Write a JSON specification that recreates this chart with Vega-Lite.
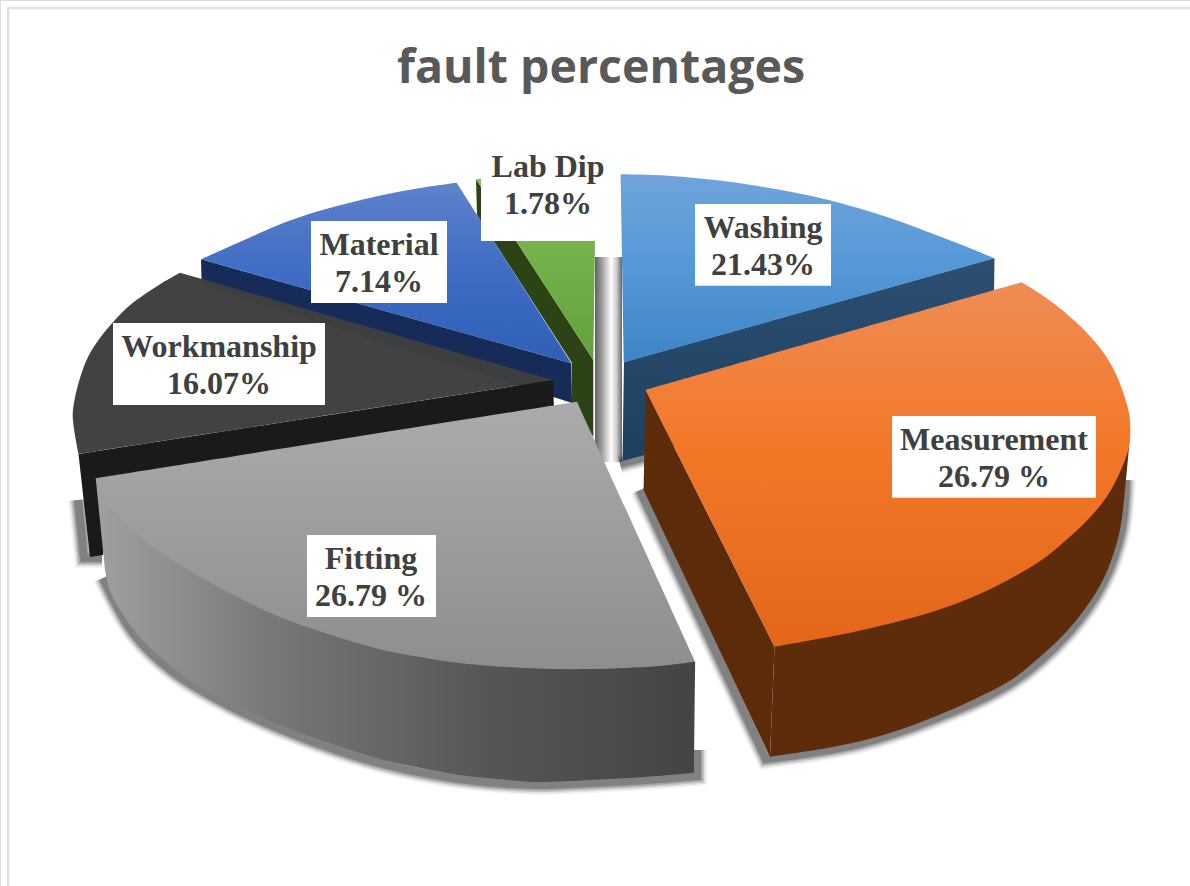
{
"$schema":"https://vega.github.io/schema/vega-lite/v6.json",
"width":1190,"height":886,"padding":0,"autosize":{"type":"none"},"background":"white",
"title":{"text":"fault percentages","font":"Open Sans","fontSize":46.5,"fontWeight":"bold","color":"#595959","anchor":"middle","orient":"top","offset":-129,"dx":6,"baseline":"alphabetic"},
"data":{"values":[
{"part":"borderv","x0":8,"y0":8,"y1":886},
{"part":"borderh","x0":7,"x1":1190,"y0":8},
{"part":"gap","x0":595,"x1":622,"y0":257,"y1":462},
{"part":"shadow_orange","seq":1,"x":640,"y":490},{"part":"shadow_orange","seq":2,"x":640,"y":490},{"part":"shadow_orange","seq":3,"x":766,"y":759},{"part":"shadow_orange","seq":4,"x":766,"y":759},{"part":"shadow_orange","seq":5,"x":858,"y":744},{"part":"shadow_orange","seq":6,"x":934,"y":719},{"part":"shadow_orange","seq":7,"x":1011,"y":683},{"part":"shadow_orange","seq":8,"x":1068,"y":633},{"part":"shadow_orange","seq":9,"x":1103,"y":583},{"part":"shadow_orange","seq":10,"x":1121,"y":532},{"part":"shadow_orange","seq":11,"x":1126,"y":480},
{"part":"shadow_fit","seq":1,"x":103,"y":578},{"part":"shadow_fit","seq":2,"x":134,"y":634},{"part":"shadow_fit","seq":3,"x":172,"y":671},{"part":"shadow_fit","seq":4,"x":230,"y":706},{"part":"shadow_fit","seq":5,"x":306,"y":739},{"part":"shadow_fit","seq":6,"x":383,"y":764},{"part":"shadow_fit","seq":7,"x":459,"y":779},{"part":"shadow_fit","seq":8,"x":536,"y":785},{"part":"shadow_fit","seq":9,"x":590,"y":783},{"part":"shadow_fit","seq":10,"x":647,"y":780},{"part":"shadow_fit","seq":11,"x":697,"y":776},{"part":"shadow_fit","seq":12,"x":697,"y":776},{"part":"shadow_fit","seq":13,"x":697,"y":750},{"part":"shadow_fit","seq":14,"x":697,"y":750},
{"part":"shadow_stub","seq":1,"x":78,"y":500},{"part":"shadow_stub","seq":2,"x":78,"y":500},{"part":"shadow_stub","seq":3,"x":84,"y":558},{"part":"shadow_stub","seq":4,"x":84,"y":558},{"part":"shadow_stub","seq":5,"x":102,"y":558},{"part":"shadow_stub","seq":6,"x":102,"y":558},
{"part":"shadow_wash","seq":1,"x":620,"y":464},{"part":"shadow_wash","seq":2,"x":620,"y":464},{"part":"shadow_wash","seq":3,"x":650,"y":456},{"part":"shadow_wash","seq":4,"x":650,"y":456},
{"part":"wash_side","seq":1,"x":624,"y":362},{"part":"wash_side","seq":2,"x":994.5,"y":258},{"part":"wash_side","seq":3,"x":993,"y":360},{"part":"wash_side","seq":4,"x":622.5,"y":461},
{"part":"wash_top","seq":1,"x":620.6,"y":174.3},{"part":"wash_top","seq":2,"x":620.6,"y":174.3},{"part":"wash_top","seq":3,"x":665,"y":175.5},{"part":"wash_top","seq":4,"x":705,"y":179},{"part":"wash_top","seq":5,"x":745,"y":184},{"part":"wash_top","seq":6,"x":781,"y":190},{"part":"wash_top","seq":7,"x":820,"y":198},{"part":"wash_top","seq":8,"x":858,"y":208},{"part":"wash_top","seq":9,"x":890,"y":218},{"part":"wash_top","seq":10,"x":915,"y":227},{"part":"wash_top","seq":11,"x":957,"y":243},{"part":"wash_top","seq":12,"x":994.5,"y":258.3},{"part":"wash_top","seq":13,"x":994.5,"y":258.3},{"part":"wash_top","seq":14,"x":623.7,"y":362.3},{"part":"wash_top","seq":15,"x":623.7,"y":362.3},
{"part":"lab_side","seq":1,"x":476,"y":179.3},{"part":"lab_side","seq":2,"x":593.3,"y":360},{"part":"lab_side","seq":3,"x":593.3,"y":437},{"part":"lab_side","seq":4,"x":572,"y":403},{"part":"lab_side","seq":5,"x":572,"y":363},{"part":"lab_side","seq":6,"x":477,"y":215},
{"part":"lab_top","seq":1,"x":476,"y":179.3},{"part":"lab_top","seq":2,"x":595,"y":172},{"part":"lab_top","seq":3,"x":595,"y":240},{"part":"lab_top","seq":4,"x":593.3,"y":360},
{"part":"mat_side","seq":1,"x":201,"y":259.3},{"part":"mat_side","seq":2,"x":571.4,"y":363.3},{"part":"mat_side","seq":3,"x":572,"y":403},{"part":"mat_side","seq":4,"x":201.7,"y":285},
{"part":"mat_top","seq":1,"x":456.6,"y":182.7},{"part":"mat_top","seq":2,"x":456.6,"y":182.7},{"part":"mat_top","seq":3,"x":420,"y":188},{"part":"mat_top","seq":4,"x":382.7,"y":195},{"part":"mat_top","seq":5,"x":345,"y":204},{"part":"mat_top","seq":6,"x":306,"y":215},{"part":"mat_top","seq":7,"x":276,"y":226},{"part":"mat_top","seq":8,"x":248.8,"y":238},{"part":"mat_top","seq":9,"x":201,"y":259.3},{"part":"mat_top","seq":10,"x":201,"y":259.3},{"part":"mat_top","seq":11,"x":571.4,"y":363.3},{"part":"mat_top","seq":12,"x":571.4,"y":363.3},
{"part":"work_side","seq":1,"x":78.5,"y":454},{"part":"work_side","seq":2,"x":553,"y":380},{"part":"work_side","seq":3,"x":554,"y":410},{"part":"work_side","seq":4,"x":110,"y":500},{"part":"work_side","seq":5,"x":103,"y":555},{"part":"work_side","seq":6,"x":90,"y":557},
{"part":"work_top","seq":1,"x":180,"y":272.7},{"part":"work_top","seq":2,"x":180,"y":272.7},{"part":"work_top","seq":3,"x":162,"y":283},{"part":"work_top","seq":4,"x":145,"y":294},{"part":"work_top","seq":5,"x":129,"y":306},{"part":"work_top","seq":6,"x":115,"y":320},{"part":"work_top","seq":7,"x":100,"y":338},{"part":"work_top","seq":8,"x":88,"y":357},{"part":"work_top","seq":9,"x":80,"y":378},{"part":"work_top","seq":10,"x":74.5,"y":400},{"part":"work_top","seq":11,"x":72.7,"y":415},{"part":"work_top","seq":12,"x":74.6,"y":433},{"part":"work_top","seq":13,"x":78.5,"y":454},{"part":"work_top","seq":14,"x":78.5,"y":454},{"part":"work_top","seq":15,"x":553,"y":380},{"part":"work_top","seq":16,"x":553,"y":380},
{"part":"fit_side","seq":1,"x":95.7,"y":478.3},{"part":"fit_side","seq":2,"x":95.7,"y":478.3},{"part":"fit_side","seq":3,"x":555,"y":600},{"part":"fit_side","seq":4,"x":555,"y":600},{"part":"fit_side","seq":5,"x":695.2,"y":661.7},{"part":"fit_side","seq":6,"x":695.2,"y":661.7},{"part":"fit_side","seq":7,"x":694,"y":772.7},{"part":"fit_side","seq":8,"x":694,"y":772.7},{"part":"fit_side","seq":9,"x":647,"y":776.7},{"part":"fit_side","seq":10,"x":590,"y":780},{"part":"fit_side","seq":11,"x":536,"y":782},{"part":"fit_side","seq":12,"x":497,"y":779},{"part":"fit_side","seq":13,"x":459,"y":775},{"part":"fit_side","seq":14,"x":421,"y":768},{"part":"fit_side","seq":15,"x":383,"y":760},{"part":"fit_side","seq":16,"x":344,"y":748},{"part":"fit_side","seq":17,"x":306,"y":735},{"part":"fit_side","seq":18,"x":268,"y":720},{"part":"fit_side","seq":19,"x":230,"y":702},{"part":"fit_side","seq":20,"x":199,"y":687},{"part":"fit_side","seq":21,"x":172,"y":667},{"part":"fit_side","seq":22,"x":153,"y":650},{"part":"fit_side","seq":23,"x":134,"y":630},{"part":"fit_side","seq":24,"x":111,"y":593},{"part":"fit_side","seq":25,"x":105,"y":570},{"part":"fit_side","seq":26,"x":105,"y":570},
{"part":"fit_top","seq":1,"x":95.7,"y":478.3},{"part":"fit_top","seq":2,"x":95.7,"y":478.3},{"part":"fit_top","seq":3,"x":577,"y":401.7},{"part":"fit_top","seq":4,"x":577,"y":401.7},{"part":"fit_top","seq":5,"x":695.2,"y":661.7},{"part":"fit_top","seq":6,"x":695.2,"y":661.7},{"part":"fit_top","seq":7,"x":659,"y":666},{"part":"fit_top","seq":8,"x":625,"y":668},{"part":"fit_top","seq":9,"x":590,"y":669},{"part":"fit_top","seq":10,"x":555,"y":669},{"part":"fit_top","seq":11,"x":507,"y":667},{"part":"fit_top","seq":12,"x":459,"y":663},{"part":"fit_top","seq":13,"x":420,"y":657},{"part":"fit_top","seq":14,"x":382.7,"y":650},{"part":"fit_top","seq":15,"x":344,"y":639},{"part":"fit_top","seq":16,"x":306,"y":626.7},{"part":"fit_top","seq":17,"x":268,"y":612},{"part":"fit_top","seq":18,"x":229.6,"y":593},{"part":"fit_top","seq":19,"x":191,"y":571.7},{"part":"fit_top","seq":20,"x":153,"y":546.7},{"part":"fit_top","seq":21,"x":132,"y":530},{"part":"fit_top","seq":22,"x":114.8,"y":513},{"part":"fit_top","seq":23,"x":103,"y":497},
{"part":"or_cut","seq":1,"x":645.5,"y":390},{"part":"or_cut","seq":2,"x":774.5,"y":646.7},{"part":"or_cut","seq":3,"x":770,"y":756.7},{"part":"or_cut","seq":4,"x":643.6,"y":490},
{"part":"or_side","seq":1,"x":774.5,"y":646.7},{"part":"or_side","seq":2,"x":774.5,"y":646.7},{"part":"or_side","seq":3,"x":1129,"y":447},{"part":"or_side","seq":4,"x":1129,"y":447},{"part":"or_side","seq":5,"x":1125,"y":490},{"part":"or_side","seq":6,"x":1120,"y":530},{"part":"or_side","seq":7,"x":1113,"y":555},{"part":"or_side","seq":8,"x":1103,"y":580},{"part":"or_side","seq":9,"x":1087,"y":606},{"part":"or_side","seq":10,"x":1068,"y":630},{"part":"or_side","seq":11,"x":1041,"y":656},{"part":"or_side","seq":12,"x":1011,"y":680},{"part":"or_side","seq":13,"x":972.7,"y":700},{"part":"or_side","seq":14,"x":934.4,"y":716.7},{"part":"or_side","seq":15,"x":896,"y":731},{"part":"or_side","seq":16,"x":858,"y":741.7},{"part":"or_side","seq":17,"x":815,"y":750},{"part":"or_side","seq":18,"x":770,"y":756.7},{"part":"or_side","seq":19,"x":770,"y":756.7},
{"part":"or_top","seq":1,"x":645.5,"y":390},{"part":"or_top","seq":2,"x":645.5,"y":390},{"part":"or_top","seq":3,"x":1021.7,"y":282.3},{"part":"or_top","seq":4,"x":1021.7,"y":282.3},{"part":"or_top","seq":5,"x":1045,"y":297},{"part":"or_top","seq":6,"x":1068,"y":315},{"part":"or_top","seq":7,"x":1087,"y":333},{"part":"or_top","seq":8,"x":1103,"y":352},{"part":"or_top","seq":9,"x":1115,"y":372},{"part":"or_top","seq":10,"x":1124,"y":395},{"part":"or_top","seq":11,"x":1129,"y":413},{"part":"or_top","seq":12,"x":1130.4,"y":430},{"part":"or_top","seq":13,"x":1129,"y":447},{"part":"or_top","seq":14,"x":1120,"y":472},{"part":"or_top","seq":15,"x":1106.6,"y":497},{"part":"or_top","seq":16,"x":1087.5,"y":520},{"part":"or_top","seq":17,"x":1065,"y":541},{"part":"or_top","seq":18,"x":1041.6,"y":560},{"part":"or_top","seq":19,"x":1008,"y":580},{"part":"or_top","seq":20,"x":972.7,"y":597},{"part":"or_top","seq":21,"x":935,"y":611},{"part":"or_top","seq":22,"x":896,"y":622},{"part":"or_top","seq":23,"x":838.8,"y":635},{"part":"or_top","seq":24,"x":774.5,"y":646.7},{"part":"or_top","seq":25,"x":774.5,"y":646.7},
{"part":"label","label":"Washing|21.43%","x0":695,"x1":831,"y0":204,"y1":285.7,"cx":763,"cy":228},
{"part":"label","label":"Measurement|26.79 %","x0":892,"x1":1096,"y0":416,"y1":497.7,"cx":994,"cy":440},
{"part":"label","label":"Fitting|26.79 %","x0":307,"x1":436,"y0":535,"y1":617,"cx":371,"cy":559},
{"part":"label","label":"Workmanship|16.07%","x0":113,"x1":325,"y0":323,"y1":405,"cx":219,"cy":347},
{"part":"label","label":"Material|7.14%","x0":311,"x1":447,"y0":221,"y1":303,"cx":379,"cy":245},
{"part":"label","label":"Lab Dip|1.78%","x0":481,"x1":595,"y0":144,"y1":241,"cx":548,"cy":167}
]},
"encoding":{
"x":{"field":"x","type":"quantitative","scale":{"domain":[0,1190],"nice":false,"zero":false},"axis":null},
"y":{"field":"y","type":"quantitative","scale":{"domain":[0,886],"reverse":true,"nice":false,"zero":false},"axis":null},
"order":{"field":"seq","type":"quantitative"}
},
"layer":[
{"transform":[{"filter":"datum.part==='borderv'"}],"mark":{"type":"rule","color":"#DFDFDF","strokeWidth":2.5},"encoding":{"x":{"field":"x0","type":"quantitative"},"y":{"field":"y0","type":"quantitative"},"y2":{"field":"y1"},"order":null}},
{"transform":[{"filter":"datum.part==='borderh'"}],"mark":{"type":"rule","color":"#E4E4E4","strokeWidth":2.5},"encoding":{"x":{"field":"x0","type":"quantitative"},"x2":{"field":"x1"},"y":{"field":"y0","type":"quantitative"},"order":null}},
{"transform":[{"filter":"datum.part==='gap'"}],"mark":{"type":"rect","fill":{"gradient":"linear","x1":0,"y1":0,"x2":1,"y2":0,"stops":[{"offset":0,"color":"#606060"},{"offset":0.3,"color":"#aaaaaa"},{"offset":0.6,"color":"#ffffff"},{"offset":0.8,"color":"#cccccc"},{"offset":1,"color":"#666666"}]}},"encoding":{"x":{"field":"x0","type":"quantitative"},"x2":{"field":"x1"},"y":{"field":"y0","type":"quantitative"},"y2":{"field":"y1"},"order":null}},
{"transform":[{"filter":"test(/^shadow/,datum.part)"}],"mark":{"type":"line","interpolate":"catmull-rom","color":"#333333","opacity":0.05,"strokeWidth":20},"encoding":{"detail":{"field":"part"}}},
{"transform":[{"filter":"test(/^shadow/,datum.part)"}],"mark":{"type":"line","interpolate":"catmull-rom","color":"#333333","opacity":0.1,"strokeWidth":17},"encoding":{"detail":{"field":"part"}}},
{"transform":[{"filter":"test(/^shadow/,datum.part)"}],"mark":{"type":"line","interpolate":"catmull-rom","color":"#333333","opacity":0.16,"strokeWidth":14},"encoding":{"detail":{"field":"part"}}},
{"transform":[{"filter":"test(/^shadow/,datum.part)"}],"mark":{"type":"line","interpolate":"catmull-rom","color":"#333333","opacity":0.22,"strokeWidth":11},"encoding":{"detail":{"field":"part"}}},
{"transform":[{"filter":"test(/^shadow/,datum.part)"}],"mark":{"type":"line","interpolate":"catmull-rom","color":"#333333","opacity":0.3,"strokeWidth":8},"encoding":{"detail":{"field":"part"}}},
{"transform":[{"filter":"datum.part==='wash_side'"}],"mark":{"type":"line","strokeWidth":0,"fill":{"gradient":"linear","x1":0,"y1":0,"x2":0,"y2":1,"stops":[{"offset":0,"color":"#2C4F72"},{"offset":1,"color":"#1E4060"}]}}},
{"transform":[{"filter":"datum.part==='wash_top'"}],"mark":{"type":"line","interpolate":"catmull-rom","strokeWidth":0,"fill":{"gradient":"linear","x1":0,"y1":0,"x2":0,"y2":1,"stops":[{"offset":0,"color":"#70A4DA"},{"offset":0.5,"color":"#5498D8"},{"offset":1,"color":"#3F84C4"}]}}},
{"transform":[{"filter":"datum.part==='lab_side'"}],"mark":{"type":"line","strokeWidth":0,"fill":"#2C4415"}},
{"transform":[{"filter":"datum.part==='lab_top'"}],"mark":{"type":"line","strokeWidth":0,"fill":{"gradient":"linear","x1":0,"y1":0,"x2":0,"y2":1,"stops":[{"offset":0,"color":"#80BE58"},{"offset":1,"color":"#63A23A"}]}}},
{"transform":[{"filter":"datum.part==='mat_side'"}],"mark":{"type":"line","strokeWidth":0,"fill":"#162B57"}},
{"transform":[{"filter":"datum.part==='mat_top'"}],"mark":{"type":"line","interpolate":"catmull-rom","strokeWidth":0,"fill":{"gradient":"linear","x1":0,"y1":0,"x2":0,"y2":1,"stops":[{"offset":0,"color":"#5F82CB"},{"offset":0.5,"color":"#3F6CC4"},{"offset":1,"color":"#2F60B6"}]}}},
{"transform":[{"filter":"datum.part==='work_side'"}],"mark":{"type":"line","strokeWidth":0,"fill":"#1A1A1A"}},
{"transform":[{"filter":"datum.part==='work_top'"}],"mark":{"type":"line","interpolate":"catmull-rom","strokeWidth":0,"fill":"#3E3E3E","fillOpacity":0.98}},
{"transform":[{"filter":"datum.part==='fit_side'"}],"mark":{"type":"line","interpolate":"catmull-rom","strokeWidth":0,"fill":{"gradient":"linear","x1":0,"y1":0,"x2":1,"y2":0,"stops":[{"offset":0,"color":"#A0A0A0"},{"offset":0.3,"color":"#777777"},{"offset":0.65,"color":"#565656"},{"offset":1,"color":"#444444"}]}}},
{"transform":[{"filter":"datum.part==='fit_top'"}],"mark":{"type":"line","interpolate":"catmull-rom","strokeWidth":0,"fill":{"gradient":"linear","x1":0,"y1":0,"x2":0,"y2":1,"stops":[{"offset":0,"color":"#ABABAB"},{"offset":1,"color":"#8E8E8E"}]}}},
{"transform":[{"filter":"datum.part==='or_cut'"}],"mark":{"type":"line","strokeWidth":0,"fill":"#5C2B0A"}},
{"transform":[{"filter":"datum.part==='or_side'"}],"mark":{"type":"line","interpolate":"catmull-rom","strokeWidth":0,"fill":"#5E2C0B"}},
{"transform":[{"filter":"datum.part==='or_top'"}],"mark":{"type":"line","interpolate":"catmull-rom","strokeWidth":0,"fill":{"gradient":"linear","x1":0,"y1":0,"x2":0,"y2":1,"stops":[{"offset":0,"color":"#EF8C55"},{"offset":0.45,"color":"#F27828"},{"offset":1,"color":"#E3661A"}]}}},
{"transform":[{"filter":"datum.part==='label'"}],"mark":{"type":"rect","fill":"white"},"encoding":{"x":{"field":"x0","type":"quantitative"},"x2":{"field":"x1"},"y":{"field":"y0","type":"quantitative"},"y2":{"field":"y1"},"order":null}},
{"transform":[{"filter":"datum.part==='label'"}],"mark":{"type":"text","font":"Liberation Serif","fontWeight":"bold","fontSize":32,"color":"#404040","lineBreak":"|","lineHeight":37,"align":"center","baseline":"middle"},"encoding":{"x":{"field":"cx","type":"quantitative"},"y":{"field":"cy","type":"quantitative"},"text":{"field":"label"},"order":null}}
]
}
